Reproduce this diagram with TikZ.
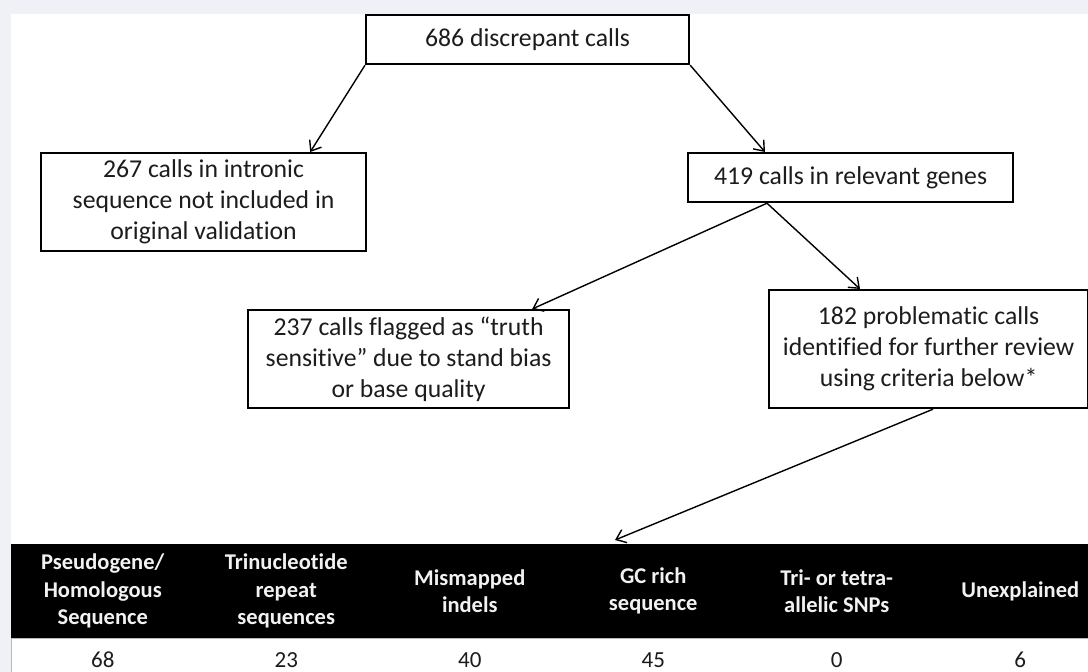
\documentclass[tikz,border=0pt]{standalone}
\usepackage{fontspec}
\setmainfont{Carlito}[Ligatures=NoCommon]
\usetikzlibrary{arrows.meta,calc}
\definecolor{bggray}{HTML}{F0F1F6}
\definecolor{ink}{HTML}{1C1C1C}
\begin{document}
\begin{tikzpicture}[x=1pt,y=-1pt,
  box/.style={draw=black, line width=2.2pt, fill=white, align=center, anchor=north west,
    inner sep=0pt, font=\fontsize{25.7}{31}\selectfont, text=ink},
  arr/.style={line width=1.4pt, -{Straight Barb[length=9pt,width=14pt,line width=1.4pt]}},
  hdr/.style={text=white!95!black, font=\fontsize{22.5}{27.5}\selectfont\bfseries, align=center},
  val/.style={font=\fontsize{23}{27}\selectfont, text=ink}]
\useasboundingbox (0,0) rectangle (1088,672);
\fill[bggray] (0,0) rectangle (1088,672);
\fill[white] (11,14) rectangle (1088,672);
% boxes
\node[box, minimum width=323pt, minimum height=49pt] (top) at (365,14) {686 discrepant calls};
\node[box, minimum width=325pt, minimum height=98pt] (b267) at (40,152) {267 calls in intronic\\sequence not included in\\original validation};
\node[box, minimum width=325pt, minimum height=49pt] (b419) at (687,152) {419 calls in relevant genes};
\node[box, minimum width=321pt, minimum height=98pt] (b237) at (247,309) {237 calls flagged as “truth\\sensitive” due to stand bias\\or base quality};
\node[box, minimum width=319pt, minimum height=118pt] (b182) at (768,289) {182 problematic calls\\identified for further review\\using criteria below*};
% table
\node[fill=black, minimum width=1077pt, minimum height=94pt, anchor=north west, inner sep=0pt] (thead) at (11,544) {};
\draw[gray!55, line width=1pt] (thead.south west) -- (thead.south east);
\draw[gray!55, line width=1pt] (thead.south west) -- (11,672);
\node[hdr] (h1) at (102.75,591) {Pseudogene/\\Homologous\\Sequence};
\node[hdr] (h2) at (286.25,591) {Trinucleotide\\repeat\\sequences};
\node[hdr] (h3) at (469.75,591) {Mismapped\\indels};
\node[hdr] (h4) at (653.25,591) {GC rich\\sequence};
\node[hdr] (h5) at (836.75,591) {Tri- or tetra-\\allelic SNPs};
\node[hdr] (h6) at (1020.25,591) {Unexplained};
\node[val] (v1) at (102.75,660) {68};
\node[val] (v2) at (286.25,660) {23};
\node[val] (v3) at (469.75,660) {40};
\node[val] (v4) at (653.25,660) {45};
\node[val] (v5) at (836.75,660) {0};
\node[val] (v6) at (1020.25,660) {6};
% connectors
\draw[arr] (top.south west) -- ([xshift=-57pt]b267.north east);
\draw[arr] (top.south east) -- ([xshift=78pt]b419.north west);
\draw[arr] ([xshift=80pt]b419.south west) -- ([xshift=-38pt]b237.north east);
\draw[arr] ([xshift=80pt]b419.south west) -- ([xshift=92pt]b182.north west);
\draw[arr] ([xshift=165pt]b182.south west) -- ([xshift=604pt,yshift=4pt]thead.north west);
\end{tikzpicture}
\end{document}
